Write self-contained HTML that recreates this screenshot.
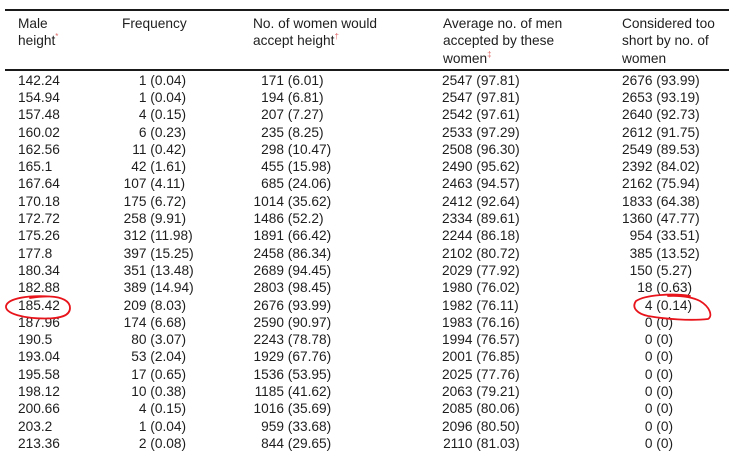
<!DOCTYPE html>
<html>
<head>
<meta charset="utf-8">
<style>
  html, body { margin:0; padding:0; }
  body { width:729px; height:454px; overflow:hidden; background:#fff; position:relative;
         font-family:"Liberation Sans", sans-serif; font-size:13.7px; color:#1e1e1e; }
  .rule { position:absolute; left:5px; right:0; height:2px; background:#1a1a1a; }
  .h { position:absolute; line-height:17.5px; top:14.5px; white-space:nowrap; }
  .sup { color:#e06a6a; font-size:8px; position:relative; top:-6px; line-height:0; vertical-align:baseline; }
  .r { position:absolute; left:0; width:729px; height:17.3px; line-height:17.3px; }
  .r span { position:absolute; top:0; white-space:nowrap; }
  .c1 { left:18px; }
  .n2 { right:582.5px; } .p2 { left:150.3px; }
  .n3 { right:445px; }   .p3 { left:287.8px; }
  .n4 { right:256.5px; } .p4 { left:476.3px; }
  .n5 { right:76.5px; }  .p5 { left:656.3px; }
  svg { position:absolute; left:0; top:0; }
</style>
</head>
<body>
<div class="rule" style="top:8.5px"></div>
<div class="rule" style="top:69px"></div>

<div class="h" style="left:18px">Male<br>height<span class="sup">*</span></div>
<div class="h" style="left:122px">Frequency</div>
<div class="h" style="left:253px">No. of women would<br>accept height<span class="sup">†</span></div>
<div class="h" style="left:443px">Average no. of men<br>accepted by these<br>women<span class="sup">‡</span></div>
<div class="h" style="left:622px">Considered too<br>short by no. of<br>women</div>

<div class="r" style="top:71.6px"><span class="c1">142.24</span><span class="n2">1</span><span class="p2">(0.04)</span><span class="n3">171</span><span class="p3">(6.01)</span><span class="n4">2547</span><span class="p4">(97.81)</span><span class="n5">2676</span><span class="p5">(93.99)</span></div>
<div class="r" style="top:88.9px"><span class="c1">154.94</span><span class="n2">1</span><span class="p2">(0.04)</span><span class="n3">194</span><span class="p3">(6.81)</span><span class="n4">2547</span><span class="p4">(97.81)</span><span class="n5">2653</span><span class="p5">(93.19)</span></div>
<div class="r" style="top:106.2px"><span class="c1">157.48</span><span class="n2">4</span><span class="p2">(0.15)</span><span class="n3">207</span><span class="p3">(7.27)</span><span class="n4">2542</span><span class="p4">(97.61)</span><span class="n5">2640</span><span class="p5">(92.73)</span></div>
<div class="r" style="top:123.5px"><span class="c1">160.02</span><span class="n2">6</span><span class="p2">(0.23)</span><span class="n3">235</span><span class="p3">(8.25)</span><span class="n4">2533</span><span class="p4">(97.29)</span><span class="n5">2612</span><span class="p5">(91.75)</span></div>
<div class="r" style="top:140.8px"><span class="c1">162.56</span><span class="n2">11</span><span class="p2">(0.42)</span><span class="n3">298</span><span class="p3">(10.47)</span><span class="n4">2508</span><span class="p4">(96.30)</span><span class="n5">2549</span><span class="p5">(89.53)</span></div>
<div class="r" style="top:158.1px"><span class="c1">165.1</span><span class="n2">42</span><span class="p2">(1.61)</span><span class="n3">455</span><span class="p3">(15.98)</span><span class="n4">2490</span><span class="p4">(95.62)</span><span class="n5">2392</span><span class="p5">(84.02)</span></div>
<div class="r" style="top:175.4px"><span class="c1">167.64</span><span class="n2">107</span><span class="p2">(4.11)</span><span class="n3">685</span><span class="p3">(24.06)</span><span class="n4">2463</span><span class="p4">(94.57)</span><span class="n5">2162</span><span class="p5">(75.94)</span></div>
<div class="r" style="top:192.7px"><span class="c1">170.18</span><span class="n2">175</span><span class="p2">(6.72)</span><span class="n3">1014</span><span class="p3">(35.62)</span><span class="n4">2412</span><span class="p4">(92.64)</span><span class="n5">1833</span><span class="p5">(64.38)</span></div>
<div class="r" style="top:210.0px"><span class="c1">172.72</span><span class="n2">258</span><span class="p2">(9.91)</span><span class="n3">1486</span><span class="p3">(52.2)</span><span class="n4">2334</span><span class="p4">(89.61)</span><span class="n5">1360</span><span class="p5">(47.77)</span></div>
<div class="r" style="top:227.3px"><span class="c1">175.26</span><span class="n2">312</span><span class="p2">(11.98)</span><span class="n3">1891</span><span class="p3">(66.42)</span><span class="n4">2244</span><span class="p4">(86.18)</span><span class="n5">954</span><span class="p5">(33.51)</span></div>
<div class="r" style="top:244.6px"><span class="c1">177.8</span><span class="n2">397</span><span class="p2">(15.25)</span><span class="n3">2458</span><span class="p3">(86.34)</span><span class="n4">2102</span><span class="p4">(80.72)</span><span class="n5">385</span><span class="p5">(13.52)</span></div>
<div class="r" style="top:261.9px"><span class="c1">180.34</span><span class="n2">351</span><span class="p2">(13.48)</span><span class="n3">2689</span><span class="p3">(94.45)</span><span class="n4">2029</span><span class="p4">(77.92)</span><span class="n5">150</span><span class="p5">(5.27)</span></div>
<div class="r" style="top:279.2px"><span class="c1">182.88</span><span class="n2">389</span><span class="p2">(14.94)</span><span class="n3">2803</span><span class="p3">(98.45)</span><span class="n4">1980</span><span class="p4">(76.02)</span><span class="n5">18</span><span class="p5">(0.63)</span></div>
<div class="r" style="top:296.5px"><span class="c1">185.42</span><span class="n2">209</span><span class="p2">(8.03)</span><span class="n3">2676</span><span class="p3">(93.99)</span><span class="n4">1982</span><span class="p4">(76.11)</span><span class="n5">4</span><span class="p5">(0.14)</span></div>
<div class="r" style="top:313.8px"><span class="c1">187.96</span><span class="n2">174</span><span class="p2">(6.68)</span><span class="n3">2590</span><span class="p3">(90.97)</span><span class="n4">1983</span><span class="p4">(76.16)</span><span class="n5">0</span><span class="p5">(0)</span></div>
<div class="r" style="top:331.1px"><span class="c1">190.5</span><span class="n2">80</span><span class="p2">(3.07)</span><span class="n3">2243</span><span class="p3">(78.78)</span><span class="n4">1994</span><span class="p4">(76.57)</span><span class="n5">0</span><span class="p5">(0)</span></div>
<div class="r" style="top:348.4px"><span class="c1">193.04</span><span class="n2">53</span><span class="p2">(2.04)</span><span class="n3">1929</span><span class="p3">(67.76)</span><span class="n4">2001</span><span class="p4">(76.85)</span><span class="n5">0</span><span class="p5">(0)</span></div>
<div class="r" style="top:365.7px"><span class="c1">195.58</span><span class="n2">17</span><span class="p2">(0.65)</span><span class="n3">1536</span><span class="p3">(53.95)</span><span class="n4">2025</span><span class="p4">(77.76)</span><span class="n5">0</span><span class="p5">(0)</span></div>
<div class="r" style="top:383.0px"><span class="c1">198.12</span><span class="n2">10</span><span class="p2">(0.38)</span><span class="n3">1185</span><span class="p3">(41.62)</span><span class="n4">2063</span><span class="p4">(79.21)</span><span class="n5">0</span><span class="p5">(0)</span></div>
<div class="r" style="top:400.3px"><span class="c1">200.66</span><span class="n2">4</span><span class="p2">(0.15)</span><span class="n3">1016</span><span class="p3">(35.69)</span><span class="n4">2085</span><span class="p4">(80.06)</span><span class="n5">0</span><span class="p5">(0)</span></div>
<div class="r" style="top:417.6px"><span class="c1">203.2</span><span class="n2">1</span><span class="p2">(0.04)</span><span class="n3">959</span><span class="p3">(33.68)</span><span class="n4">2096</span><span class="p4">(80.50)</span><span class="n5">0</span><span class="p5">(0)</span></div>
<div class="r" style="top:434.9px"><span class="c1">213.36</span><span class="n2">2</span><span class="p2">(0.08)</span><span class="n3">844</span><span class="p3">(29.65)</span><span class="n4">2110</span><span class="p4">(81.03)</span><span class="n5">0</span><span class="p5">(0)</span></div>

<svg width="729" height="454" viewBox="0 0 729 454">
  <g fill="none" stroke="#e8141b" stroke-width="1.8" stroke-linecap="round" stroke-linejoin="round">
    <path d="M50 296.5 C30 295, 8 298, 6 306 C5 314, 25 318.5, 45 318.5 C60 318.5, 70 316, 70 308 C70 301, 62 297, 50 296.5 C44 296.3, 36 297, 30 298"/>
    <path d="M690 296 C672 293, 645 295, 636 301 C631 308, 638 314, 648 316 C665 319, 690 321, 708 319 C713 316, 710 307, 700 301 C692 297, 680 295.5, 668 296"/>
  </g>
</svg>
</body>
</html>
